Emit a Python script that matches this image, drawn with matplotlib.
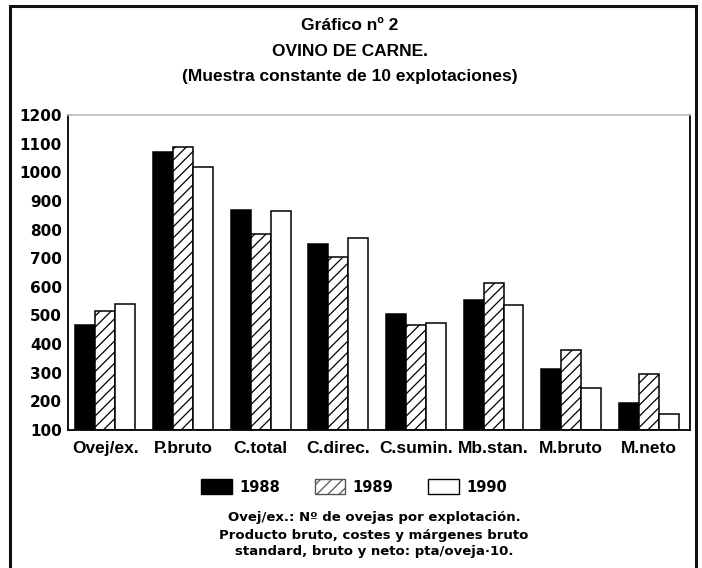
import matplotlib
matplotlib.use("Agg")
import matplotlib.pyplot as plt
from matplotlib.patches import Patch
from matplotlib.lines import Line2D
import numpy as np

categories = ["Ovej/ex.", "P.bruto", "C.total", "C.direc.", "C.sumin.", "Mb.stan.", "M.bruto", "M.neto"]
years = ["1988", "1989", "1990"]
v1988 = [465, 1070, 870, 750, 505, 555, 312, 195]
v1989 = [515, 1090, 785, 705, 465, 615, 380, 295]
v1990 = [540, 1020, 865, 770, 475, 535, 245, 155]
yticks = [100, 200, 300, 400, 500, 600, 700, 800, 900, 1000, 1100, 1200]

plt.rcParams['font.family'] = ['Liberation Sans', 'DejaVu Sans']
plt.rcParams['hatch.linewidth'] = 0.9
plt.rcParams['hatch.color'] = '#555555'

W, H = 702, 568
fig = plt.figure(figsize=(W / 100, H / 100), dpi=100)

# outer frame (left, top, right; bottom runs off the page)
fx0, fx1, fy0 = 10 / W, 696 / W, 1 - 6 / H
fig.add_artist(Line2D([fx0, fx0, fx1, fx1], [-0.01, fy0, fy0, -0.01], transform=fig.transFigure,
                      color='#111111', linewidth=2.2, solid_joinstyle='miter'))

ax = fig.add_axes([68 / W, (H - 430) / H, (690 - 68) / W, (430 - 115) / H])
x = np.arange(len(categories))
bw = 0.257
styles = [dict(color='black', edgecolor='black'),
          dict(color='white', edgecolor='black', hatch='///'),
          dict(color='white', edgecolor='black')]
for i, vals in enumerate([v1988, v1989, v1990]):
    ax.bar(x + (i - 1) * bw, np.array(vals) - 100, bottom=100, width=bw,
           linewidth=1.1, label=years[i], **styles[i])

ax.set_ylim(100, 1200)
ax.set_xlim(-0.48, 7.53)
ax.set_yticks(yticks)
ax.set_yticklabels([str(t) for t in yticks], fontsize=11, fontweight='bold', family=['DejaVu Sans'])
ax.set_xticks(x)
ax.set_xticklabels(categories, fontsize=12.5, fontweight='bold')
ax.tick_params(axis='both', length=0)
ax.tick_params(axis='y', pad=4.5)
ax.tick_params(axis='x', pad=8)
for s in ['left', 'bottom', 'right']:
    ax.spines[s].set_linewidth(1.3)
ax.spines['top'].set_color('#bbbbbb')
ax.spines['top'].set_linewidth(1.2)

fig.text(350 / W, 1 - 25 / H, "Gráfico nº 2", ha='center', va='center', fontsize=12.5, fontweight='bold')
fig.text(350 / W, 1 - 52 / H, "OVINO DE CARNE.", ha='center', va='center', fontsize=12.5, fontweight='bold')
fig.text(350 / W, 1 - 77 / H, "(Muestra constante de 10 explotaciones)", ha='center', va='center',
         fontsize=12.5, fontweight='bold')

handles = [Patch(facecolor='black', edgecolor='black'),
           Patch(facecolor='white', edgecolor='#555555', hatch='///'),
           Patch(facecolor='white', edgecolor='black')]
fig.legend(handles, years, loc='center', bbox_to_anchor=(354 / W, 1 - 487 / H), ncol=3, frameon=False,
           prop={'weight': 'bold', 'size': 10.5, 'family': ['DejaVu Sans']}, handlelength=2.1,
           handleheight=1.15, columnspacing=2.4, handletextpad=0.5)

notes = ["Ovej/ex.: Nº de ovejas por explotación.",
         "Producto bruto, costes y márgenes bruto",
         "standard, bruto y neto: pta/oveja·10."]
for k, line in enumerate(notes):
    fig.text(374 / W, 1 - (518 + 17 * k) / H, line, ha='center', va='center', fontsize=9.5,
             fontweight='bold', family=['DejaVu Sans'])

fig.savefig("out.png", dpi=100)
